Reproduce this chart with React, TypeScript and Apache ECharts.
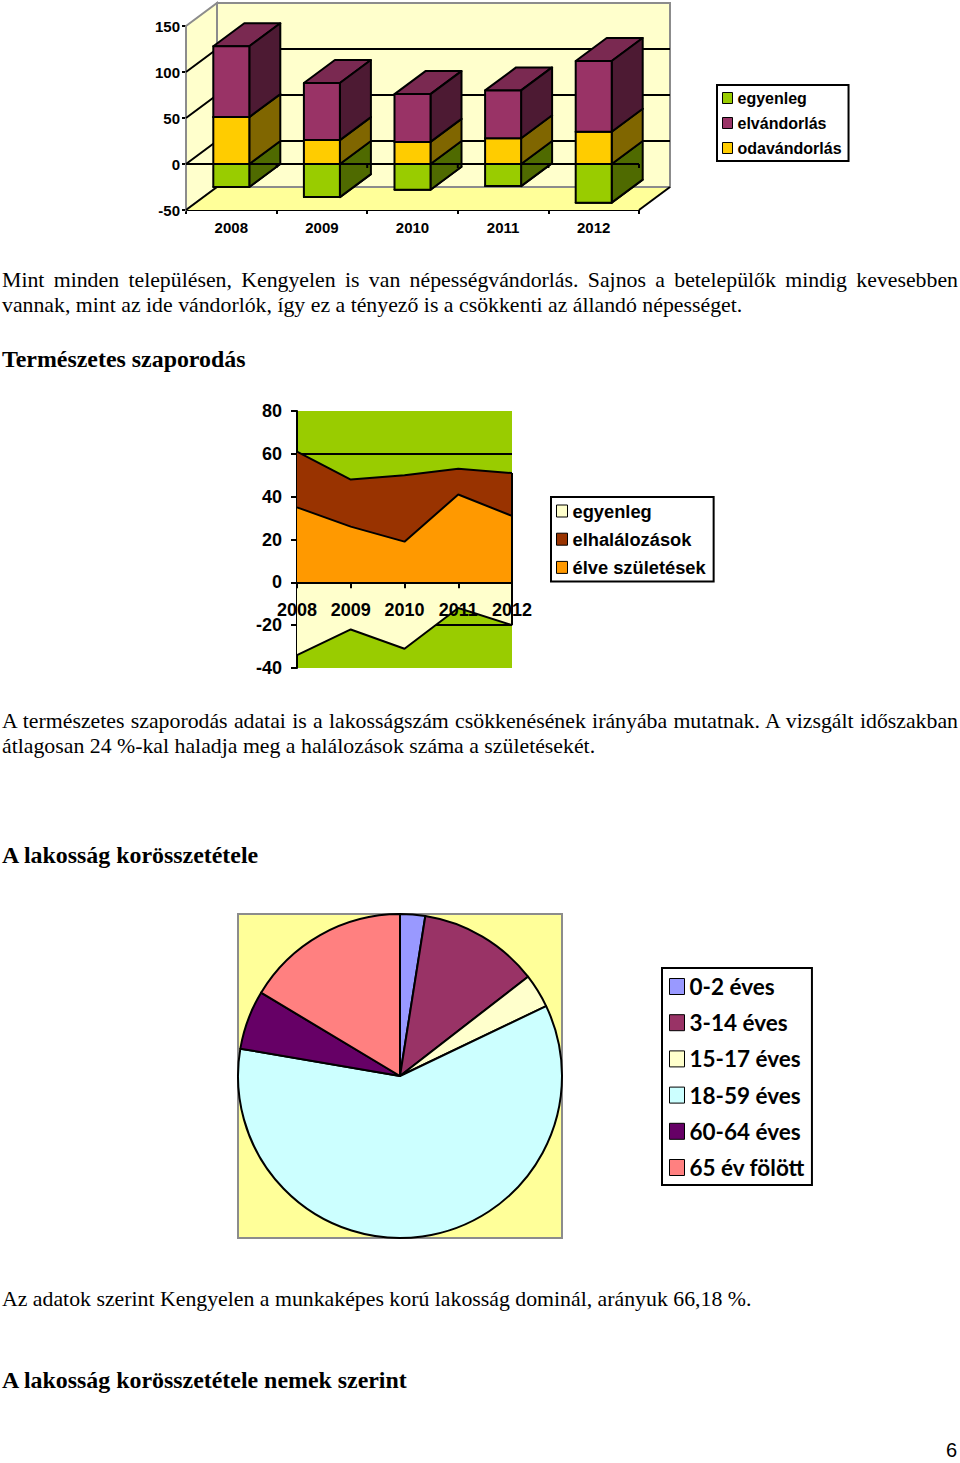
import React, { useEffect, useRef } from "react";
import * as echarts from "echarts";

const years = ["2008", "2009", "2010", "2011", "2012"];

const balance3d = [-25, -36, -28, -24, -42];
const inflow = [51, 26, 24, 28, 35];
const outflow = [77, 62, 52, 52, 77];
const yTicksTop = [0, 50, 100];

const births = [35, 26, 19, 41, 31];
const deaths = [26, 22, 31, 12, 20];
const naturalBalance = [-34, -22, -31, -12, -20];

const ageGroups = ["0-2 éves", "3-14 éves", "15-17 éves", "18-59 éves", "60-64 éves", "65 év fölött"];
const ageShares = [2.5, 12.0, 3.4, 59.8, 5.9, 16.4];
const ageColors = ["#9999FF", "#993366", "#FFFFCC", "#CCFFFF", "#660066", "#FF8080"];

const justifiedLines = [
  "Mint minden településen, Kengyelen is van népességvándorlás. Sajnos a betelepülők mindig kevesebben",
  "A természetes szaporodás adatai is a lakosságszám csökkenésének irányába mutatnak. A vizsgált időszakban",
];
const leftLines: [string, number][] = [
  [justifiedLines[0], 280],
  ["vannak, mint az ide vándorlók, így ez a tényező is a csökkenti az állandó népességet.", 305],
  [justifiedLines[1], 721],
  ["átlagosan 24 %-kal haladja meg a halálozások száma a születésekét.", 746],
  ["Az adatok szerint Kengyelen a munkaképes korú lakosság dominál, arányuk 66,18 %.", 1299],
];
const headings: [string, number][] = [
  ["Természetes szaporodás", 359],
  ["A lakosság korösszetétele", 855],
  ["A lakosság korösszetétele nemek szerint", 1380],
];

const DX = 31;
const DY = -23;
const BAR_W = 36;
const SERIF = "'Liberation Serif'";
const SANS = "'Liberation Sans'";

function bar3d(color: string, side: string, top: string) {
  return (params: any, api: any) => {
    const a = api.coord([api.value(0), api.value(1)]);
    const b = api.coord([api.value(0), api.value(2)]);
    const l = a[0] - BAR_W / 2;
    const r = a[0] + BAR_W / 2;
    const lineStyle = { stroke: "#000", lineWidth: 2, lineJoin: "round" };
    return {
      type: "group",
      children: [
        { type: "polygon", shape: { points: [[l, b[1]], [r, b[1]], [r + DX, b[1] + DY], [l + DX, b[1] + DY]] }, style: { fill: top, ...lineStyle } },
        { type: "polygon", shape: { points: [[r, a[1]], [r + DX, a[1] + DY], [r + DX, b[1] + DY], [r, b[1]]] }, style: { fill: side, ...lineStyle } },
        { type: "rect", shape: { x: l, y: b[1], width: BAR_W, height: a[1] - b[1] }, style: { fill: color, ...lineStyle } },
      ],
    };
  };
}

function renderWalls(params: any) {
  const { x, y, width: w, height: h } = params.coordSys;
  const grey = { stroke: "#8c8c8c", lineWidth: 2 };
  return {
    type: "group",
    children: [
      { type: "polygon", shape: { points: [[x + DX, y + DY], [x + w + DX, y + DY], [x + w + DX, y + h + DY], [x + DX, y + h + DY]] }, style: { fill: "#FFFFCC", ...grey } },
      { type: "polygon", shape: { points: [[x, y], [x + DX, y + DY], [x + DX, y + h + DY], [x, y + h]] }, style: { fill: "#FFFFCC", ...grey } },
      { type: "polygon", shape: { points: [[x, y + h], [x + w, y + h], [x + w + DX, y + h + DY], [x + DX, y + h + DY]] }, style: { fill: "#FFFF99", stroke: "none" } },
      { type: "line", shape: { x1: x + DX, y1: y + h + DY, x2: x + w + DX, y2: y + h + DY }, style: grey },
      { type: "line", shape: { x1: x, y1: y + h, x2: x + DX, y2: y + h + DY }, style: { stroke: "#000", lineWidth: 2 } },
      { type: "line", shape: { x1: x + w, y1: y + h, x2: x + w + DX, y2: y + h + DY }, style: { stroke: "#000", lineWidth: 2 } },
    ],
  };
}

function renderGridLine(params: any, api: any) {
  const cs = params.coordSys;
  const yy = api.coord([0, api.value(0)])[1];
  return {
    type: "polyline",
    shape: { points: [[cs.x, yy], [cs.x + DX, yy + DY], [cs.x + cs.width + DX, yy + DY]] },
    style: { fill: "none", stroke: "#000", lineWidth: 2 },
  };
}

function renderZeroAxis(params: any, api: any) {
  const cs = params.coordSys;
  const yy = api.coord([0, api.value(0)])[1];
  const band = cs.width / years.length;
  const children: any[] = [{ type: "line", shape: { x1: cs.x, y1: yy, x2: cs.x + cs.width, y2: yy }, style: { stroke: "#000", lineWidth: 2 } }];
  years.forEach((_, i) => {
    const xx = cs.x + band * (i + 1);
    children.push({ type: "line", shape: { x1: xx, y1: yy, x2: xx, y2: yy + 4 }, style: { stroke: "#000", lineWidth: 2 } });
  });
  return { type: "group", children };
}

function legendBase(left: number, top: number, names: { name: string; color: string }[], font: any, w: number, h: number, gap: number, padding: number[]) {
  return {
    show: true,
    left,
    top,
    orient: "vertical",
    selectedMode: false,
    icon: "rect",
    itemWidth: w,
    itemHeight: h,
    itemGap: gap,
    padding,
    backgroundColor: "#fff",
    borderColor: "#000",
    borderWidth: 2,
    borderRadius: 0,
    align: "left",
    z: 6,
    textStyle: { color: "#000", ...font },
    itemStyle: { borderColor: "#000", borderWidth: 1 },
    data: names.map((n) => ({ name: n.name, icon: "rect", itemStyle: { color: n.color, borderColor: "#000", borderWidth: 1 } })),
  };
}

function buildOption(): any {
  const green3d = balance3d.map((v, i) => [i, 0, v]);
  const yellow3d = inflow.map((v, i) => [i, 0, v]);
  const purple3d = outflow.map((v, i) => [i, inflow[i], inflow[i] + v]);

  const areaLine = { color: "#000", width: 2 };
  const axisFont18 = { fontFamily: SANS, fontWeight: "bold", fontSize: 18, color: "#000" };
  const axisFont15 = { fontFamily: SANS, fontWeight: "bold", fontSize: 15, color: "#000" };

  const texts: any[] = [];
  leftLines.forEach(([text, y]) => {
    texts.push({ type: "text", x: 2, y, z: 10, style: { text, fontFamily: SERIF, fontSize: 21.8, fill: "#000", verticalAlign: "middle", align: "left" } });
  });
  headings.forEach(([text, y]) => {
    texts.push({ type: "text", x: 2, y, z: 10, style: { text, fontFamily: SERIF, fontWeight: "bold", fontSize: 23.9, fill: "#000", verticalAlign: "middle", align: "left" } });
  });
  texts.push({ type: "text", x: 946, y: 1450, z: 10, style: { text: "6", fontFamily: SANS, fontSize: 20, fill: "#000", verticalAlign: "middle", align: "left" } });
  texts.push({ type: "rect", z: 0, shape: { x: 238, y: 914, width: 324, height: 324 }, style: { fill: "#FFFF99", stroke: "#8c8c8c", lineWidth: 2 } });

  return {
    animation: false,
    backgroundColor: "#fff",
    graphic: { elements: texts },
    grid: [
      { left: 186, top: 26, width: 453, height: 184 },
      { left: 297, top: 411, width: 215, height: 257, show: true, backgroundColor: "#99CC00", borderWidth: 0 },
    ],
    xAxis: [
      {
        gridIndex: 0, type: "category", data: years, boundaryGap: true,
        axisLine: { onZero: false, lineStyle: { color: "#000", width: 2 } },
        axisTick: { show: true, length: 4, alignWithLabel: false, lineStyle: { color: "#000", width: 2 } },
        axisLabel: { margin: 10, interval: 0, ...axisFont15 },
      },
      {
        gridIndex: 1, type: "category", data: years, boundaryGap: false, z: 5,
        axisLine: { onZero: true, lineStyle: { color: "#000", width: 2 } },
        axisTick: { show: true, length: 6, alignWithLabel: true, lineStyle: { color: "#000", width: 2 } },
        axisLabel: { margin: -67, interval: 0, showMinLabel: true, showMaxLabel: true, hideOverlap: false, ...axisFont18 },
      },
    ],
    yAxis: [
      {
        gridIndex: 0, type: "value", min: -50, max: 150, interval: 50,
        axisLine: { show: true, onZero: false, lineStyle: { color: "#000", width: 2 } },
        axisTick: { show: true, length: 4, lineStyle: { color: "#000", width: 2 } },
        axisLabel: { margin: 6, ...axisFont15 },
        splitLine: { show: false },
      },
      {
        gridIndex: 1, type: "value", min: -40, max: 80, interval: 20,
        axisLine: { show: true, onZero: false, lineStyle: { color: "#000", width: 2 } },
        axisTick: { show: true, length: 6, lineStyle: { color: "#000", width: 2 } },
        axisLabel: { margin: 15, ...axisFont18 },
        splitLine: { show: true, showMinLine: false, showMaxLine: false, lineStyle: { color: "#000", width: 2 } },
      },
    ],
    legend: [
      legendBase(717, 85, [{ name: "egyenleg", color: "#99CC00" }, { name: "elvándorlás", color: "#993366" }, { name: "odavándorlás", color: "#FFCC00" }],
        { fontFamily: SANS, fontWeight: "bold", fontSize: 16 }, 10, 11, 9, [5, 7, 5, 5]),
      legendBase(551, 497, [{ name: "egyenleg ", color: "#FFFFCC" }, { name: "elhalálozások", color: "#993300" }, { name: "élve születések", color: "#FF9900" }],
        { fontFamily: SANS, fontWeight: "bold", fontSize: 18.3 }, 11, 12, 10.2, [5, 8, 5, 5]),
      legendBase(662, 968, ageGroups.map((name, i) => ({ name, color: ageColors[i] })),
        { fontFamily: "Lato", fontWeight: "bold", fontSize: 22.5 }, 15, 16, 13.2, [7, 7, 6, 7]),
    ],
    series: [
      { type: "custom", name: "falak", xAxisIndex: 0, yAxisIndex: 0, data: [[0]], encode: { x: 0 }, renderItem: renderWalls, clip: false, silent: true, z: 1 },
      { type: "custom", name: "rács", xAxisIndex: 0, yAxisIndex: 0, data: yTicksTop.map((v) => [v]), encode: { y: 0 }, renderItem: renderGridLine, clip: false, silent: true, z: 1 },
      { type: "custom", name: "egyenleg", xAxisIndex: 0, yAxisIndex: 0, data: green3d, encode: { x: 0, y: [1, 2] }, renderItem: bar3d("#99CC00", "#4F6A00", "#99CC00"), clip: false, z: 2 },
      { type: "custom", name: "odavándorlás", xAxisIndex: 0, yAxisIndex: 0, data: yellow3d, encode: { x: 0, y: [1, 2] }, renderItem: bar3d("#FFCC00", "#806600", "#806600"), clip: false, z: 2 },
      { type: "custom", name: "elvándorlás", xAxisIndex: 0, yAxisIndex: 0, data: purple3d, encode: { x: 0, y: [1, 2] }, renderItem: bar3d("#993366", "#4D1A33", "#7A2951"), clip: false, z: 2 },
      { type: "custom", name: "nulla", xAxisIndex: 0, yAxisIndex: 0, data: [[0]], encode: { y: 0 }, renderItem: renderZeroAxis, clip: false, silent: true, z: 3 },

      { type: "line", name: "egyenleg ", xAxisIndex: 1, yAxisIndex: 1, data: naturalBalance, symbol: "none", lineStyle: areaLine, itemStyle: { color: "#FFFFCC" }, areaStyle: { color: "#FFFFCC", opacity: 1, origin: "auto" }, clip: false, z: 2,
        markLine: { silent: true, symbol: "none", label: { show: false }, lineStyle: { color: "#000", width: 2, type: "solid" }, data: [[{ coord: ["2012", naturalBalance[4]] }, { coord: ["2012", births[4] + deaths[4]] }]] } },
      { type: "line", name: "élve születések", xAxisIndex: 1, yAxisIndex: 1, stack: "nép", data: births, symbol: "none", lineStyle: areaLine, itemStyle: { color: "#FF9900" }, areaStyle: { color: "#FF9900", opacity: 1 }, clip: false, z: 2 },
      { type: "line", name: "elhalálozások", xAxisIndex: 1, yAxisIndex: 1, stack: "nép", data: deaths, symbol: "none", lineStyle: areaLine, itemStyle: { color: "#993300" }, areaStyle: { color: "#993300", opacity: 1 }, clip: false, z: 2 },

      {
        type: "pie", name: "korösszetétel", center: [400, 1076], radius: 162, startAngle: 90, clockwise: true,
        label: { show: false }, labelLine: { show: false }, silent: true,
        itemStyle: { borderColor: "#000", borderWidth: 2 },
        data: ageGroups.map((name, i) => ({ name, value: ageShares[i], itemStyle: { color: ageColors[i] } })),
      },
    ],
  };
}

export default function App() {
  const ref = useRef<HTMLDivElement>(null);
  useEffect(() => {
    document.body.style.margin = "0";
    const chart = echarts.init(ref.current!, null, { renderer: "svg" });
    chart.setOption(buildOption());
    ref.current!.querySelectorAll("text").forEach((t: any) => {
      if (justifiedLines.includes(t.textContent)) {
        const spaces = t.textContent.split(" ").length - 1;
        t.setAttribute("word-spacing", String((956 - t.getComputedTextLength()) / spaces));
      }
    });
    return () => chart.dispose();
  }, []);
  return <div ref={ref} style={{ width: 960, height: 1463 }} />;
}
